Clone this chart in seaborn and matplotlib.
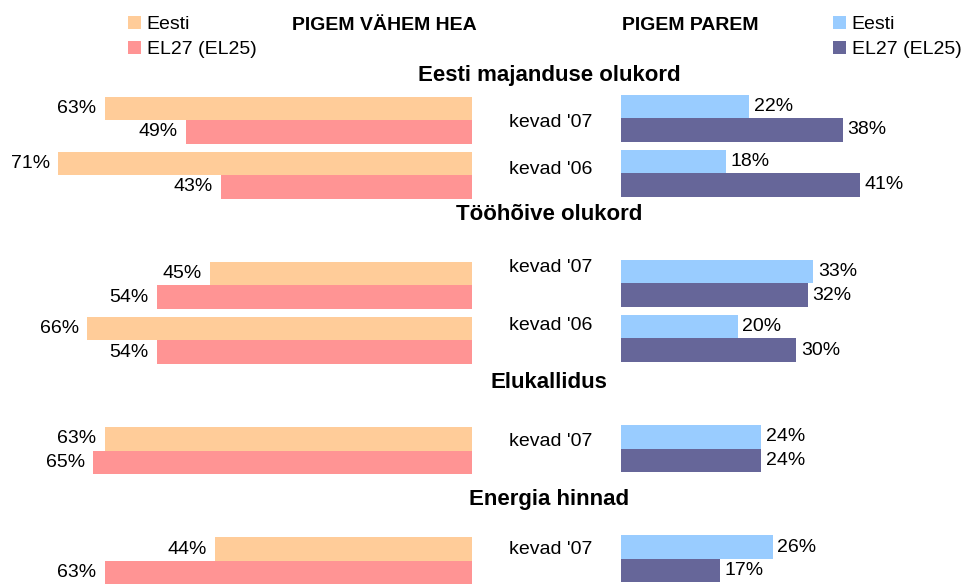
import matplotlib
matplotlib.use("Agg")
import matplotlib.pyplot as plt
import seaborn as sns
import pandas as pd

# rows of the chart, top to bottom; "h*" rows are empty and hold the section headings
ROWS = ["h1", "s1_07", "s1_06", "h2", "s2_07", "s2_06", "h3", "s3_07", "h4", "s4_07"]
BAR_ROWS = ["s1_07", "s1_06", "s2_07", "s2_06", "s3_07", "s4_07"]
PERIODS = ["kevad '07", "kevad '06", "kevad '07", "kevad '06", "kevad '07", "kevad '07"]
SECTIONS = ["Eesti majanduse olukord", "Tööhõive olukord", "Elukallidus", "Energia hinnad"]
SERIES = ["Eesti", "EL27 (EL25)"]

# "pigem vähem hea"
worse_eesti = [63, 71, 45, 66, 63, 44]
worse_el = [49, 43, 54, 54, 65, 63]
# "pigem parem"
better_eesti = [22, 18, 33, 20, 24, 26]
better_el = [38, 41, 32, 30, 24, 17]

LEFT_COLORS = ["#FFCC99", "#FF9494"]
RIGHT_COLORS = ["#99CCFF", "#666699"]

W, H = 965, 584
HEADING_Y = [76, 215, 382, 499]           # px from top
PERIOD_Y = [122, 170, 267, 326, 441, 549]  # px from top


def make_df(eesti, el):
    return pd.DataFrame({
        "row": BAR_ROWS * 2,
        "series": [SERIES[0]] * len(BAR_ROWS) + [SERIES[1]] * len(BAR_ROWS),
        "value": eesti + el,
    })


def draw_side(ax, df, colors, xmax, invert):
    sns.barplot(data=df, x="value", y="row", hue="series", order=ROWS,
                hue_order=SERIES, palette=colors, orient="h", width=0.85,
                errorbar=None, saturation=1, linewidth=0, ax=ax)
    ax.set_xlim((xmax, 0) if invert else (0, xmax))
    ax.set_ylim(9.42, -1.18)
    # value labels just past the end of each bar
    off = -6 if invert else 3.5
    for c in ax.containers:
        for bar in c:
            w = bar.get_width()
            ax.annotate(f"{w:.0f}%", (w, bar.get_y() + bar.get_height() / 2),
                        xytext=(off, 0), textcoords="offset points",
                        ha="right" if invert else "left", va="center",
                        fontsize=14)
    handles, labels = ax.get_legend_handles_labels()
    if ax.get_legend() is not None:
        ax.get_legend().remove()
    ax.axis("off")
    return handles, labels


def main():
    sns.set_style("white")
    plt.rcParams["font.family"] = ["Liberation Sans", "DejaVu Sans"]
    plt.rcParams["text.color"] = "black"

    fig = plt.figure(figsize=(W / 100, H / 100), dpi=100)
    ax_l = fig.add_axes([0, 0, 472 / W, 1])
    ax_r = fig.add_axes([621 / W, 2 / H, 344 / W, 1])

    px_per_pct = 5.83
    hl, ll = draw_side(ax_l, make_df(worse_eesti, worse_el), LEFT_COLORS,
                       472 / px_per_pct, invert=True)
    hr, lr = draw_side(ax_r, make_df(better_eesti, better_el), RIGHT_COLORS,
                       344 / px_per_pct, invert=False)

    legend_kw = dict(loc="upper left", frameon=False, fontsize=14,
                     handlelength=0.67, handleheight=0.67, handletextpad=0.3,
                     labelspacing=0.38, borderpad=0, borderaxespad=0)
    fig.legend(hl, ll, bbox_to_anchor=(128 / W, 1 - 16 / H), **legend_kw)
    fig.legend(hr, lr, bbox_to_anchor=(833 / W, 1 - 16 / H), **legend_kw)

    fig.text(384 / W, 1 - 26 / H, "PIGEM VÄHEM HEA", ha="center", va="center",
             fontsize=14, fontweight="bold")
    fig.text(690 / W, 1 - 26 / H, "PIGEM PAREM", ha="center", va="center",
             fontsize=14, fontweight="bold")

    for name, y in zip(SECTIONS, HEADING_Y):
        fig.text(549 / W, 1 - y / H, name, ha="center", va="center",
                 fontsize=16, fontweight="bold")
    for name, y in zip(PERIODS, PERIOD_Y):
        fig.text(551 / W, 1 - y / H, name, ha="center", va="center", fontsize=14)

    fig.savefig("out.png", dpi=100)
    plt.close(fig)


if __name__ == "__main__":
    main()
